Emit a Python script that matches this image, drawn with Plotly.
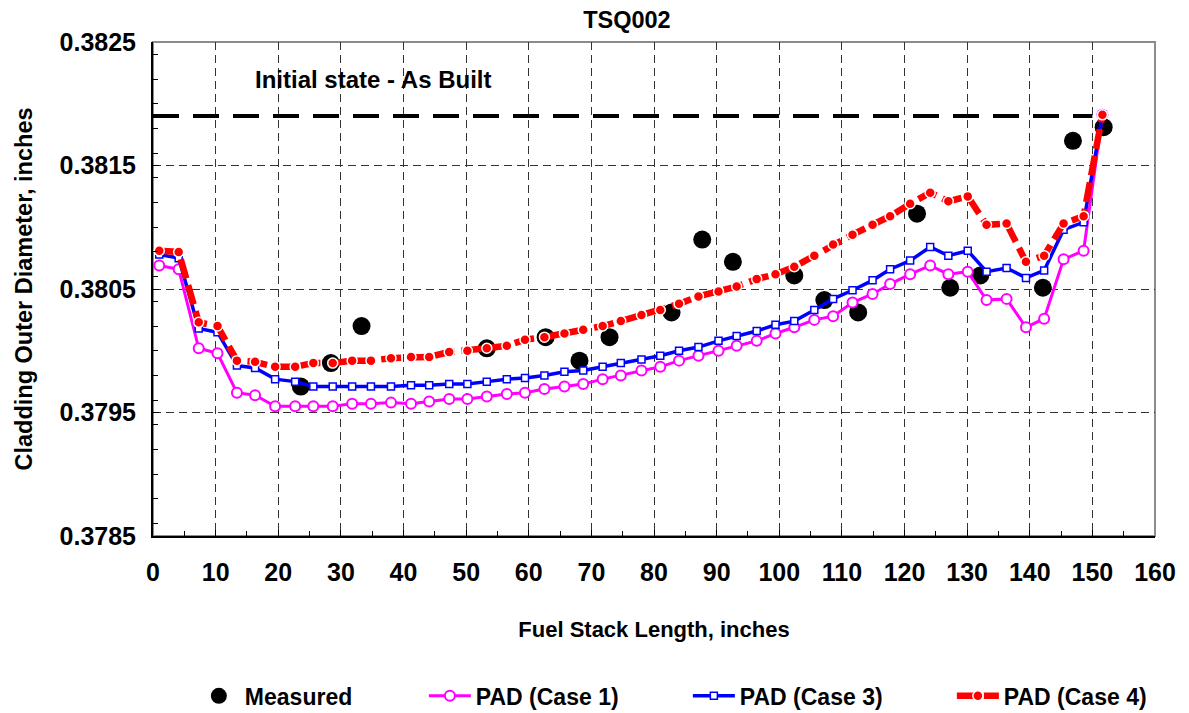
import plotly.graph_objects as go

# Axial positions of the PAD calculation nodes (inches along the fuel stack)
stack_length = [1.0, 4.1, 7.3, 10.3, 13.4, 16.3, 19.5, 22.7, 25.6, 28.7,
                31.8, 34.8, 38.0, 41.2, 44.1, 47.3, 50.2, 53.3, 56.5, 59.4,
                62.5, 65.7, 68.7, 71.8, 74.7, 78.0, 81.0, 84.0, 87.1, 90.3,
                93.2, 96.4, 99.4, 102.4, 105.6, 108.6, 111.7, 114.9, 117.7, 120.9,
                124.1, 127.0, 130.1, 133.1, 136.3, 139.4, 142.3, 145.4, 148.6, 151.6]

pad_case1 = [0.38069, 0.38066, 0.38002, 0.37998, 0.37966, 0.37964, 0.37955, 0.37955, 0.37955, 0.37955,
             0.37957, 0.37957, 0.37958, 0.37957, 0.37959, 0.37961, 0.37961, 0.37963, 0.37965, 0.37966,
             0.37969, 0.37971, 0.37973, 0.37977, 0.37980, 0.37984, 0.37987, 0.37992, 0.37996, 0.38000,
             0.38004, 0.38008, 0.38014, 0.38019, 0.38025, 0.38028, 0.38039, 0.38046, 0.38054, 0.38062,
             0.38069, 0.38062, 0.38064, 0.38041, 0.38042, 0.38019, 0.38026, 0.38074, 0.38081, 0.38191]

pad_case3 = [0.38078, 0.38075, 0.38018, 0.38015, 0.37988, 0.37986, 0.37977, 0.37975, 0.37971, 0.37971,
             0.37971, 0.37971, 0.37971, 0.37972, 0.37972, 0.37973, 0.37973, 0.37975, 0.37977, 0.37978,
             0.37980, 0.37983, 0.37984, 0.37987, 0.37990, 0.37993, 0.37996, 0.38000, 0.38003, 0.38008,
             0.38012, 0.38016, 0.38021, 0.38024, 0.38033, 0.38042, 0.38049, 0.38057, 0.38066, 0.38073,
             0.38084, 0.38077, 0.38081, 0.38064, 0.38067, 0.38059, 0.38065, 0.38098, 0.38104, 0.38191]

pad_case4 = [0.38081, 0.38080, 0.38023, 0.38020, 0.37992, 0.37991, 0.37987, 0.37987, 0.37990, 0.37990,
             0.37992, 0.37992, 0.37994, 0.37995, 0.37995, 0.37999, 0.38000, 0.38002, 0.38004, 0.38009,
             0.38011, 0.38014, 0.38017, 0.38020, 0.38024, 0.38029, 0.38033, 0.38038, 0.38044, 0.38048,
             0.38052, 0.38058, 0.38062, 0.38068, 0.38077, 0.38086, 0.38094, 0.38102, 0.38109, 0.38119,
             0.38128, 0.38121, 0.38125, 0.38102, 0.38103, 0.38072, 0.38077, 0.38103, 0.38109, 0.38191]

# Post-irradiation profilometry
measured_x = [23.6, 28.4, 33.3, 53.3, 62.7, 68.1, 72.9, 82.8, 87.7, 92.6,
              102.4, 107.2, 112.6, 122.0, 127.3, 132.1, 142.1, 146.9, 151.8]
measured_od = [0.37971, 0.37990, 0.38020, 0.38002, 0.38011, 0.37992, 0.38011, 0.38031, 0.38090, 0.38072,
               0.38061, 0.38041, 0.38031, 0.38111, 0.38051, 0.38061, 0.38051, 0.38170, 0.38181]

# As-built diameter reference
as_built_x = [0.0, 150.0]
as_built_od = [0.3819, 0.3819]

FONT = "Liberation Sans, Arial, sans-serif"


def bold(size):
    return dict(family=FONT, size=size, color="black", weight="bold")


fig = go.Figure()

fig.add_trace(go.Scatter(
    x=as_built_x, y=as_built_od, mode="lines", showlegend=False, hoverinfo="skip",
    line=dict(color="black", width=4, dash="26px,14px")))

fig.add_trace(go.Scatter(
    x=measured_x, y=measured_od, mode="markers", name="Measured",
    marker=dict(symbol="circle", size=18, color="black", line=dict(width=0)),
    legendwidth=174))

fig.add_trace(go.Scatter(
    x=stack_length, y=pad_case1, mode="lines+markers", name="PAD (Case 1)",
    line=dict(color="#ff00ff", width=3),
    marker=dict(symbol="circle", size=10, color="white", line=dict(color="#ff00ff", width=2)),
    legendwidth=207))

fig.add_trace(go.Scatter(
    x=stack_length, y=pad_case3, mode="lines+markers", name="PAD (Case 3)",
    line=dict(color="#0000ff", width=3.5),
    marker=dict(symbol="square", size=7, color="white", line=dict(color="#0000ff", width=1.5)),
    legendwidth=207))

fig.add_trace(go.Scatter(
    x=stack_length, y=pad_case4, mode="lines+markers", name="PAD (Case 4)",
    line=dict(color="#ff0000", width=6.5, dash="20px,7px"),
    marker=dict(symbol="circle", size=10, color="#ff0000", line=dict(color="white", width=1.5)),
    legendwidth=140))

axis_common = dict(
    showline=True, linecolor="black", linewidth=2, mirror=False,
    ticks="inside", ticklen=6, tickcolor="black", tickwidth=1,
    showgrid=True, gridcolor="#333333", gridwidth=1, griddash="8px,5px",
    zeroline=False, automargin=False,
    tickfont=bold(25),
)

fig.update_xaxes(
    **axis_common,
    range=[0, 160], tick0=0, dtick=10,
    minor=dict(dtick=5, ticks="inside", ticklen=5, tickcolor="black", showgrid=False),
    ticklabelstandoff=13,
    title=dict(text="Fuel Stack Length, inches", standoff=37, font=bold(22)),
)
fig.update_yaxes(
    **axis_common,
    range=[0.3785, 0.3825], tick0=0.3785, dtick=0.001, tickformat=".4f",
    minor=dict(dtick=0.0002, ticks="inside", ticklen=5, tickcolor="black", showgrid=False),
    ticklabelstandoff=10,
    title=dict(text="Cladding Outer Diameter, inches", standoff=20, font=bold(23.5)),
)

fig.add_shape(type="rect", xref="paper", yref="paper", x0=0, x1=1, y0=0, y1=1,
              line=dict(color="#8c8c8c", width=2), layer="below")

fig.add_annotation(x=16, y=0.3822, xref="x", yref="y", text="Initial state - As Built",
                   showarrow=False, xanchor="left", yanchor="middle", font=bold(24))

fig.update_layout(
    width=1189, height=713,
    margin=dict(l=153, r=34, t=42, b=177),
    paper_bgcolor="white", plot_bgcolor="white",
    font=bold(22),
    title=dict(text="TSQ002", x=0.473, xref="paper", xanchor="center",
               y=0.972, yref="container", yanchor="middle", font=bold(23.5)),
    legend=dict(orientation="h", xref="container", yref="container",
                x=0.1622, xanchor="left", y=0.024, yanchor="middle",
                itemwidth=42,
                font=bold(23), bgcolor="rgba(0,0,0,0)", traceorder="normal"),
    showlegend=True,
)

fig.write_html("out.html")
